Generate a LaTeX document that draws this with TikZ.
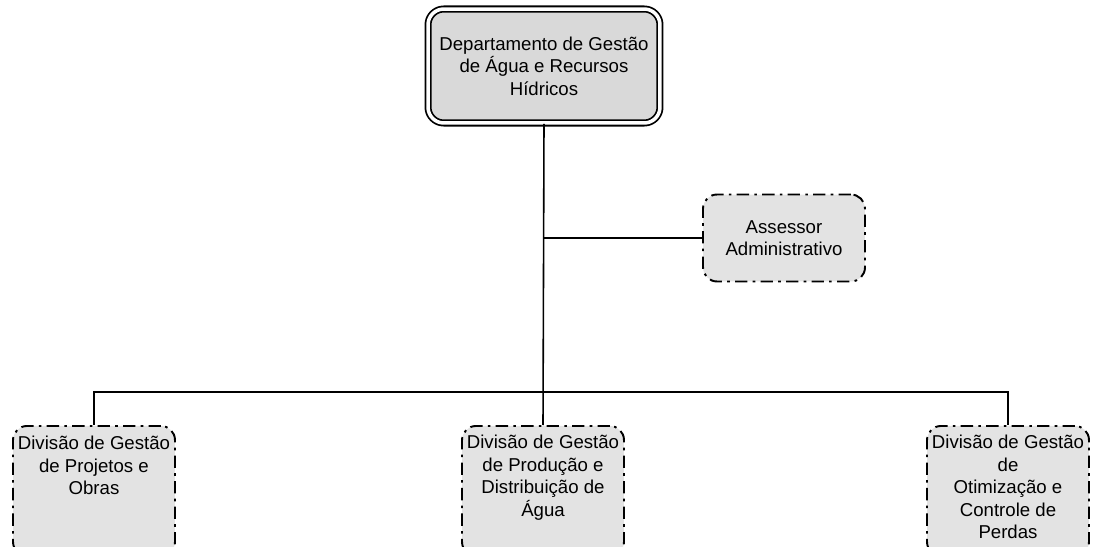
\documentclass[tikz,border=0pt]{standalone}
\usepackage{fontspec}
\setmainfont{Liberation Sans}
\usepackage{tikz}
\newcommand{\orgfont}{\fontsize{10.6}{12.8}\selectfont}

\begin{document}
\begin{tikzpicture}[x=0.02cm, y=-0.02cm,
headbox/.style={draw, double, double distance=2pt, line width=1pt, rounded corners=9pt, fill=gray!30, minimum width=4.64cm, minimum height=2.28cm, align=center, font=\orgfont},
unitbox/.style={draw, line width=1.1pt, dash pattern=on 7pt off 3pt on 1.5pt off 3pt, rounded corners=8pt, fill=gray!22, minimum width=3.24cm},
unittext/.style={anchor=north, align=center, font=\orgfont, inner sep=0pt},
link/.style={line width=0.9pt}]
\useasboundingbox (0,0) rectangle (1096,547);
\node[headbox] (dept) at (544,66) {Departamento de Gestão\\de Água e Recursos\\Hídricos};
\node[unitbox, minimum height=1.74cm, align=center, font=\orgfont] (assess) at (784,238) {Assessor\\Administrativo};
\node[unitbox, minimum height=2.6cm, anchor=north] (div1) at (94,425) {};
\node[unitbox, minimum height=2.6cm, anchor=north] (div2) at (543,425) {};
\node[unitbox, minimum height=2.6cm, anchor=north] (div3) at (1008,425) {};
\node[unittext] (div1txt) at ([yshift=-0.22cm]div1.north) {Divisão de Gestão\\de Projetos e\\Obras};
\node[unittext] (div2txt) at ([yshift=-0.2cm]div2.north) {Divisão de Gestão\\de Produção e\\Distribuição de\\Água};
\node[unittext] (div3txt) at ([yshift=-0.2cm]div3.north) {Divisão de Gestão\\de\\Otimização e\\Controle de\\Perdas};
\coordinate (bus) at (543,392);
\draw[link] (dept.south) -- (div2.north);
\draw[link] (dept.south |- assess.west) -- (assess.west);
\draw[link] (div1.north) |- (bus) -| (div3.north);
\end{tikzpicture}
\end{document}
